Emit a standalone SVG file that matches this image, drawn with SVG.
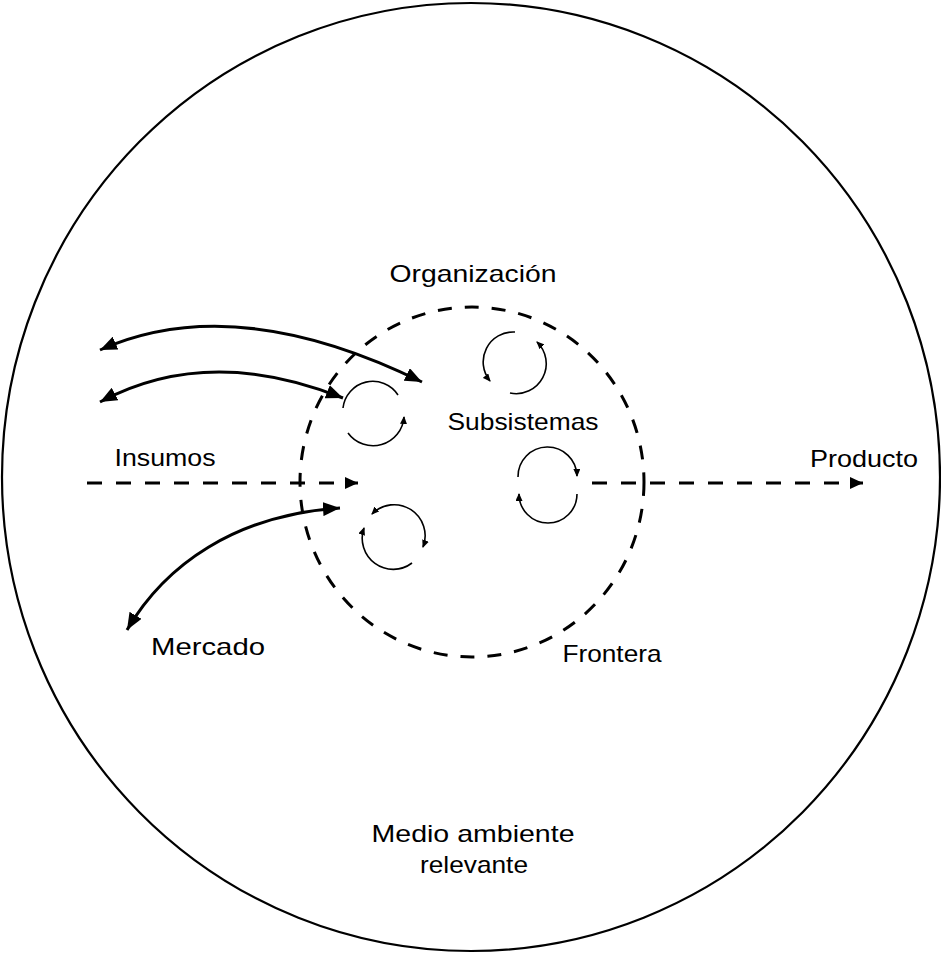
<svg xmlns="http://www.w3.org/2000/svg" width="941" height="954" viewBox="0 0 941 954">
<style>
  .lbl { font-family: "Liberation Sans", Arial, sans-serif; font-size: 24px; fill: #000; }
  .conn { fill: none; stroke: #000; stroke-width: 3; }
  .dash { fill: none; stroke: #000; stroke-width: 3; stroke-dasharray: 15 14; }
  .loop { fill: none; stroke: #000; stroke-width: 1.6; }
</style>
<defs>
  <marker id="ah" markerUnits="userSpaceOnUse" markerWidth="18" markerHeight="14" viewBox="0 0 18 14" refX="17" refY="7" orient="auto-start-reverse">
    <path d="M0,0 L17,7 L0,14 z" fill="#000"/>
  </marker>
  <marker id="ahd" markerUnits="userSpaceOnUse" markerWidth="13" markerHeight="12" viewBox="0 0 13 12" refX="13" refY="6" orient="auto">
    <path d="M0,0 L13,6 L0,12 z" fill="#000"/>
  </marker>
  <marker id="sm" markerUnits="userSpaceOnUse" markerWidth="8" markerHeight="7" viewBox="0 0 8 7" refX="7" refY="3.5" orient="auto-start-reverse">
    <path d="M0,0 L8,3.5 L0,7 z" fill="#000"/>
  </marker>
</defs>
<rect width="941" height="954" fill="#fff"/>

<g id="medio-ambiente">
  <ellipse cx="471" cy="477" rx="469" ry="474" fill="none" stroke="#000" stroke-width="2.2"/>
  <text class="lbl" x="473" y="842" text-anchor="middle" textLength="203" lengthAdjust="spacingAndGlyphs">Medio ambiente</text>
  <text class="lbl" x="474" y="873" text-anchor="middle" textLength="108" lengthAdjust="spacingAndGlyphs">relevante</text>
</g>

<g id="organizacion">
  <ellipse cx="472" cy="482" rx="172" ry="175" fill="none" stroke="#000" stroke-width="3" stroke-dasharray="14 13"/>
  <text class="lbl" x="473" y="282" text-anchor="middle" textLength="167" lengthAdjust="spacingAndGlyphs">Organización</text>
  <text class="lbl" x="612" y="662" text-anchor="middle" textLength="99" lengthAdjust="spacingAndGlyphs">Frontera</text>
</g>

<g id="subsistemas">
  <text class="lbl" x="523" y="430" text-anchor="middle" textLength="151" lengthAdjust="spacingAndGlyphs">Subsistemas</text>
  <g id="sub-1">
    <path class="loop" d="M343,408 A30,30 0 0 1 398,395"/>
    <path class="loop" d="M348,433 A31,31 0 0 0 404,417" marker-end="url(#sm)"/>
  </g>
  <g id="sub-2">
    <path class="loop" d="M515,332 A30,30 0 0 0 490,381" marker-end="url(#sm)"/>
    <path class="loop" d="M510,393 A30,30 0 0 0 537,342" marker-end="url(#sm)"/>
  </g>
  <g id="sub-3">
    <path class="loop" d="M518,477 A29,29 0 0 1 577,476" marker-end="url(#sm)"/>
    <path class="loop" d="M577,494 A29,29 0 0 1 519,494" marker-end="url(#sm)"/>
  </g>
  <g id="sub-4">
    <path class="loop" d="M372,514 A31,31 0 0 1 423,547" marker-start="url(#sm)" marker-end="url(#sm)"/>
    <path class="loop" d="M412,563 A31,31 0 0 1 364,528" marker-end="url(#sm)"/>
  </g>
</g>

<g id="insumos">
  <text class="lbl" x="165" y="466" text-anchor="middle" textLength="101" lengthAdjust="spacingAndGlyphs">Insumos</text>
</g>
<g id="producto">
  <text class="lbl" x="864" y="467" text-anchor="middle" textLength="108" lengthAdjust="spacingAndGlyphs">Producto</text>
</g>
<g id="mercado">
  <text class="lbl" x="208" y="655" text-anchor="middle" textLength="114" lengthAdjust="spacingAndGlyphs">Mercado</text>
</g>

<g id="connectors">
  <path class="dash" d="M87,483 L358,483" marker-end="url(#ahd)"/>
  <path class="dash" d="M592,483 L863,483" marker-end="url(#ahd)"/>
  <path class="conn" d="M100,350 Q235,290 422,382" marker-start="url(#ah)" marker-end="url(#ah)"/>
  <path class="conn" d="M100,402 Q208,344 343,398" marker-start="url(#ah)" marker-end="url(#ah)"/>
  <path class="conn" d="M127,630 C165,565 235,515 340,508" marker-start="url(#ah)" marker-end="url(#ah)"/>
</g>
</svg>
